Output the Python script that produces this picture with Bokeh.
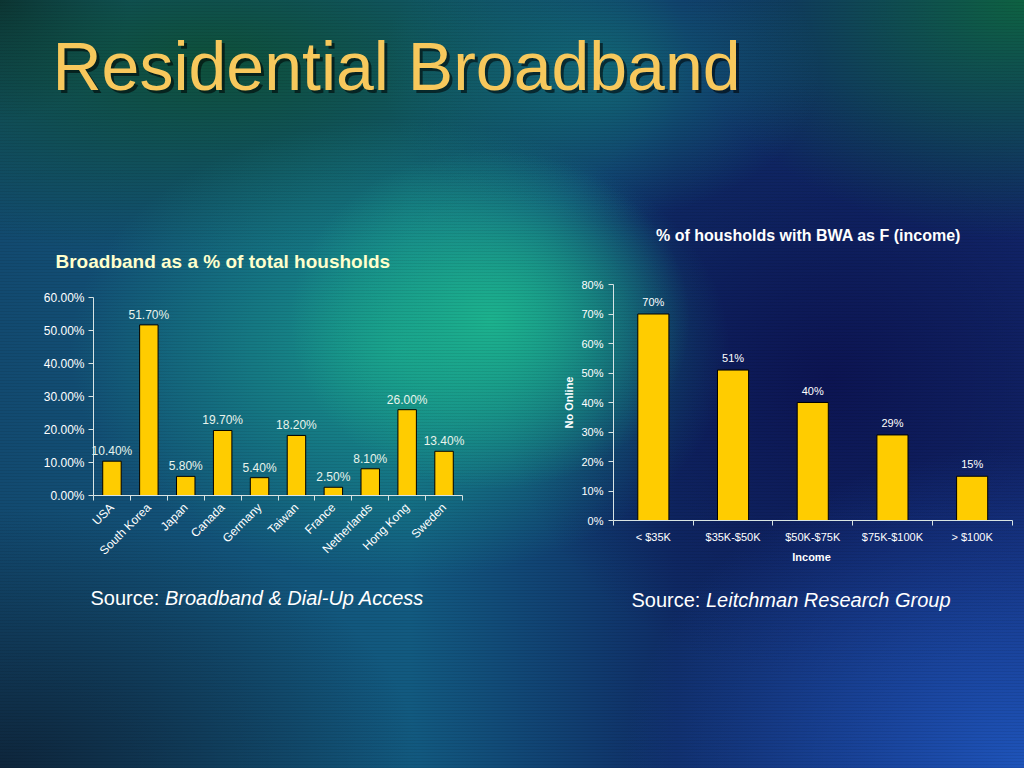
import numpy as np
from bokeh.plotting import figure
from bokeh.models import (ColumnDataSource, Range1d, LabelSet, FixedTicker,
                          PrintfTickFormatter)
from bokeh.core.properties import value
from bokeh.layouts import column, row
from bokeh.embed import file_html
from bokeh.resources import INLINE

# ---------------- data ----------------
slide_title = "Residential Broadband"

countries = ["USA", "South Korea", "Japan", "Canada", "Germany", "Taiwan",
             "France", "Netherlands", "Hong Kong", "Sweden"]
broadband_pct = [10.4, 51.7, 5.8, 19.7, 5.4, 18.2, 2.5, 8.1, 26.0, 13.4]
left_title = "Broadband as a % of total housholds"
left_ticks = [0, 10, 20, 30, 40, 50, 60]
left_source = "Broadband & Dial-Up Access"

income_groups = ["< $35K", "$35K-$50K", "$50K-$75K", "$75K-$100K", "> $100K"]
bwa_pct = [70, 51, 40, 29, 15]
right_title = "% of housholds with BWA as F (income)"
right_ticks = [0, 10, 20, 30, 40, 50, 60, 70, 80]
right_y_label = "No Online"
right_x_label = "Income"
right_source = "Leitchman Research Group"

source_prefix = "Source:"

# ---------------- style / geometry ----------------
FONT = "Liberation Sans"
BAR = "#FFCC00"
AXIS = "#D8E4E4"
TITLE_YELLOW = "#F7C85C"
BASELINE_FIX = 0.38   # measured shift of rendered alphabetic baseline, in em

TOP_H = 250          # title strip height
ROW_H = 768 - TOP_H  # chart row height
LEFT_W, RIGHT_W = 540, 484
BORDER_TOP, BORDER_BOTTOM = 0, 70

# left chart: axis origin / scale in page pixels
L_X0, L_CAT = 93.0, 36.9     # x of left end of category axis, px per category
L_Y0, L_UNIT = 495.0, 3.3    # y of 0 %, px per percentage point
L_FRAME_LEFT = 16
# right chart
R_X0, R_CAT = 613.0, 79.7
R_Y0, R_UNIT = 520.0, 2.95
R_FRAME_LEFT = 10

FRAME_TOP = TOP_H + BORDER_TOP
FRAME_BOTTOM = 768 - BORDER_BOTTOM


def lx(px):
    return -0.5 + (px - L_X0) / L_CAT


def ly(py):
    return (L_Y0 - py) / L_UNIT


def rx(px):
    return -0.5 + (px - R_X0) / R_CAT


def ry(py):
    return (R_Y0 - py) / R_UNIT


def tx(px):
    return px


def ty(py):
    return TOP_H - py


def clean(p):
    p.background_fill_alpha = 0
    p.border_fill_alpha = 0
    p.outline_line_color = None
    p.grid.visible = False


def style_axis(ax, size):
    ax.axis_line_color = AXIS
    ax.minor_tick_line_color = AXIS
    ax.major_label_text_color = "#FFFFFF"
    ax.major_label_text_font = FONT
    ax.major_label_text_font_size = size


def add_text(p, fx, fy, px, py, txt, size, style="normal", color="#FFFFFF", align="left",
             baseline="alphabetic", angle=0.0, x_offset=0, alpha=1.0, fix=True):
    """px, py: wanted page position (py = text baseline)."""
    if fix:
        py = py - BASELINE_FIX * size
    p.text(x=[fx(px)], y=[fy(py)], text=[txt], text_font=value(FONT),
           text_font_size=value(f"{size}px"), text_font_style=style, text_color=color,
           text_align=align, text_baseline=baseline, angle=angle, x_offset=x_offset,
           text_alpha=alpha)


# ---------------- title strip ----------------
tf = figure(width=1024, height=TOP_H, x_range=Range1d(0, 1024), y_range=Range1d(0, TOP_H),
            output_backend="svg", toolbar_location=None, min_border=0, title=None,
            x_axis_location=None, y_axis_location=None)
clean(tf)
add_text(tf, tx, ty, 55, 94, slide_title, 68, color="#000000", alpha=0.55)
add_text(tf, tx, ty, 52, 91, slide_title, 68, color=TITLE_YELLOW)
add_text(tf, tx, ty, 808, 241, right_title, 16, style="bold", align="center")

# ---------------- left chart ----------------
lidx = list(range(len(countries)))
lsrc = ColumnDataSource(dict(x=lidx, v=broadband_pct,
                             lbl=[f"{v:.2f}%" for v in broadband_pct]))
lf = figure(width=LEFT_W, height=ROW_H,
            x_range=Range1d(lx(L_FRAME_LEFT), lx(LEFT_W)),
            y_range=Range1d(ly(FRAME_BOTTOM), ly(FRAME_TOP)),
            output_backend="svg", toolbar_location=None, title=None,
            min_border_left=L_FRAME_LEFT, min_border_right=0,
            min_border_top=BORDER_TOP, min_border_bottom=BORDER_BOTTOM)
clean(lf)
lf.vbar(x="x", top="v", width=0.5, source=lsrc, fill_color=BAR, line_color="black", line_width=1)
lf.add_layout(LabelSet(x="x", y="v", text="lbl", source=lsrc, y_offset=6, text_align="center",
                       text_baseline="alphabetic", text_font=value(FONT), text_font_size="12px",
                       text_color="#E8F4EC"))

lf.xaxis.fixed_location = 0
lf.xaxis.bounds = (-0.5, len(countries) - 0.5)
lf.xaxis.ticker = FixedTicker(ticks=lidx, minor_ticks=[i - 0.5 for i in range(len(countries) + 1)])
lf.xaxis.major_label_overrides = {i: c for i, c in zip(lidx, countries)}
lf.xaxis.major_label_orientation = np.pi / 4
lf.xaxis.major_tick_out = 0
lf.xaxis.major_label_standoff = 5
lf.xaxis.minor_tick_out = 5
lf.xaxis.minor_tick_in = 0

lf.yaxis.fixed_location = -0.5
lf.yaxis.bounds = (left_ticks[0], left_ticks[-1])
lf.yaxis.ticker = FixedTicker(ticks=left_ticks, minor_ticks=[])
lf.yaxis.formatter = PrintfTickFormatter(format="%.2f%%")
lf.yaxis.major_tick_out = 5
lf.yaxis.major_tick_in = 0
lf.yaxis.major_label_standoff = 4

style_axis(lf.xaxis, "12px")
style_axis(lf.yaxis, "12px")
lf.xaxis.major_tick_line_color = None
lf.yaxis.major_tick_line_color = AXIS

add_text(lf, lx, ly, 55, 268, left_title, 19, style="bold", color="#FFFFCC")
add_text(lf, lx, ly, 90, 605, source_prefix, 20)
add_text(lf, lx, ly, 90, 605, left_source, 20, style="italic", x_offset=74.5)

# ---------------- right chart ----------------
ridx = list(range(len(income_groups)))
rsrc = ColumnDataSource(dict(x=ridx, v=bwa_pct, lbl=[f"{v}%" for v in bwa_pct]))
rf = figure(width=RIGHT_W, height=ROW_H,
            x_range=Range1d(rx(LEFT_W + R_FRAME_LEFT), rx(1024)),
            y_range=Range1d(ry(FRAME_BOTTOM), ry(FRAME_TOP)),
            output_backend="svg", toolbar_location=None, title=None,
            min_border_left=R_FRAME_LEFT, min_border_right=0,
            min_border_top=BORDER_TOP, min_border_bottom=BORDER_BOTTOM)
clean(rf)
rf.vbar(x="x", top="v", width=0.39, source=rsrc, fill_color=BAR, line_color="black", line_width=1)
rf.add_layout(LabelSet(x="x", y="v", text="lbl", source=rsrc, y_offset=8, text_align="center",
                       text_baseline="alphabetic", text_font=value(FONT), text_font_size="11px",
                       text_color="#FFFFFF"))

rf.xaxis.fixed_location = 0
rf.xaxis.bounds = (-0.5, len(income_groups) - 0.5)
rf.xaxis.ticker = FixedTicker(ticks=ridx, minor_ticks=[i - 0.5 for i in range(len(income_groups) + 1)])
rf.xaxis.major_label_overrides = {i: c for i, c in zip(ridx, income_groups)}
rf.xaxis.major_tick_out = 0
rf.xaxis.major_label_standoff = 5
rf.xaxis.minor_tick_out = 5
rf.xaxis.minor_tick_in = 0

rf.yaxis.fixed_location = -0.5
rf.yaxis.bounds = (right_ticks[0], right_ticks[-1])
rf.yaxis.ticker = FixedTicker(ticks=right_ticks, minor_ticks=[])
rf.yaxis.formatter = PrintfTickFormatter(format="%d%%")
rf.yaxis.major_tick_out = 5
rf.yaxis.major_tick_in = 0
rf.yaxis.major_label_standoff = 5

style_axis(rf.xaxis, "11px")
style_axis(rf.yaxis, "11px")
rf.xaxis.major_tick_line_color = None
rf.yaxis.major_tick_line_color = AXIS

add_text(rf, rx, ry, 811, 561, right_x_label, 11, style="bold", align="center")
add_text(rf, rx, ry, 568, 402, right_y_label, 11, style="bold", align="center",
         baseline="middle", angle=np.pi / 2, fix=False)
add_text(rf, rx, ry, 631, 607, source_prefix, 20)
add_text(rf, rx, ry, 631, 607, right_source, 20, style="italic", x_offset=74.5)

# ---------------- slide background ----------------
bg_layers = [
    "repeating-linear-gradient(0deg, rgba(0,0,0,0.07) 0px, rgba(0,0,0,0.07) 1px, rgba(255,255,255,0) 1px, rgba(255,255,255,0) 3px)",
    "radial-gradient(ellipse 200px 170px at 490px 320px, rgba(28,178,142,1) 0%, rgba(28,178,142,0) 100%)",
    "radial-gradient(ellipse 330px 230px at 400px 350px, rgba(24,158,140,0.9) 0%, rgba(24,158,140,0) 100%)",
    "radial-gradient(ellipse 220px 150px at 600px 70px, rgba(18,112,122,0.8) 0%, rgba(18,112,122,0) 100%)",
    "radial-gradient(ellipse 400px 320px at 1024px 768px, rgba(30,84,186,1) 0%, rgba(30,84,186,0) 100%)",
    "radial-gradient(ellipse 340px 240px at 1024px 0px, rgba(14,98,66,1) 0%, rgba(14,98,66,0) 100%)",
    "radial-gradient(ellipse 480px 200px at 210px 60px, rgba(14,80,58,1) 0%, rgba(14,80,58,0) 100%)",
    "radial-gradient(ellipse 130px 120px at 0px 0px, rgba(10,28,44,1) 0%, rgba(10,28,44,0) 100%)",
    "radial-gradient(ellipse 420px 260px at 0px 768px, rgba(14,38,60,1) 0%, rgba(14,38,60,0) 100%)",
    "radial-gradient(ellipse 330px 300px at 830px 380px, rgba(12,20,82,1) 0%, rgba(12,20,82,0) 100%)",
    "linear-gradient(90deg, #124a70 0%, #125a80 40%, #0f2c66 66%, #12286c 100%)",
]

layout = column(tf, row(lf, rf), styles={"background": ", ".join(bg_layers)})

open("out.html", "w").write(file_html(layout, INLINE))
